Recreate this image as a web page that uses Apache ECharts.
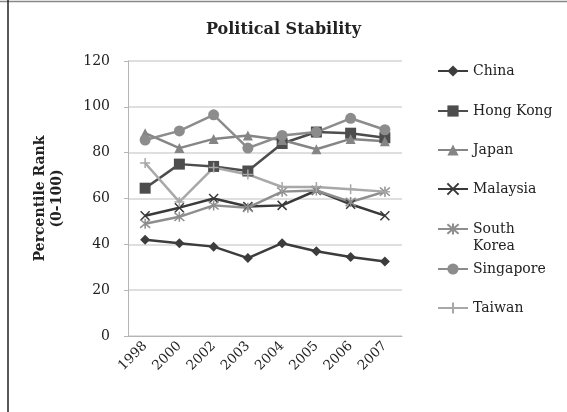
<!DOCTYPE html>
<html>
<head>
<meta charset="utf-8">
<script src="https://cdn.jsdelivr.net/npm/echarts@6/dist/echarts.min.js"></script>
<style>
html,body{margin:0;padding:0;background:#fff;}
#c{width:567px;height:412px;}
</style>
</head>
<body>
<div id="c"></div>
<script>
var years = ['1998','2000','2002','2003','2004','2005','2006','2007'];
var yTicks = [0,20,40,60,80,100,120];
var china     = [42, 40.5, 39, 34, 40.5, 37, 34.5, 32.5];
var hongKong  = [64.5, 75, 74, 72, 84, 89, 88.5, 86.5];
var japan     = [88.5, 82, 86, 87.5, 85.5, 81.5, 86, 85];
var malaysia  = [52.5, 56, 60, 56.5, 57, 63.5, 57.5, 52.5];
var southKorea= [49, 52, 57, 56, 63, 63.5, 58.5, 63];
var singapore = [85.5, 89.5, 96.5, 82, 87.5, 89, 95, 90];
var taiwan    = [75.5, 58.5, 73.5, 70.5, 65, 65, 64, 63];

var FONT = 'DejaVu Serif';
var xPath = 'path://M0,0L10,10M10,0L0,10';
var starPath = 'path://M0,0L10,10M10,0L0,10M5,-1L5,11';
var plusPath = 'path://M5,0L5,10M0,5L10,5';

function mk(name, data, color, symbol, size, stroke) {
  return {
    name: name, type: 'line', data: data,
    symbol: symbol, symbolSize: size,
    lineStyle: {color: color, width: 2.5},
    itemStyle: stroke ? {color: 'rgba(0,0,0,0)', borderColor: color, borderWidth: 1.5} : {color: color},
    emphasis: {disabled: true},
    animation: false
  };
}

var series = [
  mk('China', china, '#3c3c3c', 'diamond', 10, false),
  mk('Hong Kong', hongKong, '#4d4d4d', 'rect', 11, false),
  mk('Japan', japan, '#858585', 'triangle', 10, false),
  mk('Malaysia', malaysia, '#3a3a3a', xPath, 9, true),
  mk('South Korea', southKorea, '#8e8e8e', starPath, 10, true),
  mk('Singapore', singapore, '#8c8c8c', 'circle', 11, false),
  mk('Taiwan', taiwan, '#a8a8a8', plusPath, 10, true)
];

var legendTops = [59, 99, 138, 177, 217, 257, 296];
var legends = series.map(function (s, i) {
  return {
    data: [s.name],
    left: 432, top: legendTops[i],
    orient: 'vertical',
    itemWidth: 30, itemHeight: 14, itemGap: 5,
    selectedMode: false,
    formatter: s.name === 'South Korea' ? 'South' : '{name}',
    textStyle: {fontFamily: FONT, fontSize: 14, color: '#222'}
  };
});

var chart = echarts.init(document.getElementById('c'), null, {renderer: 'canvas'});
chart.setOption({
  backgroundColor: '#fff',
  animation: false,
  title: {
    text: 'Political Stability', left: 'center', top: 22,
    textStyle: {fontFamily: FONT, fontSize: 16, fontWeight: 'bold', color: '#222'},
    padding: 0, itemGap: 0
  },
  legend: legends,
  grid: {left: 128, right: 165, top: 61, bottom: 76, containLabel: false},
  xAxis: {
    type: 'category', data: years, boundaryGap: true,
    axisLine: {lineStyle: {color: '#b5b5b5', width: 1}},
    axisTick: {show: false},
    axisLabel: {rotate: 45, fontFamily: FONT, fontSize: 13.5, color: '#222', margin: 8, interval: 0}
  },
  yAxis: {
    type: 'value', min: yTicks[0], max: yTicks[yTicks.length - 1], interval: 20,
    name: 'Percentile Rank\n(0-100)', nameLocation: 'middle', nameGap: 62, nameRotate: 90,
    nameTextStyle: {fontFamily: FONT, fontSize: 14, fontWeight: 'bold', color: '#222', lineHeight: 17},
    axisLine: {show: true, lineStyle: {color: '#b5b5b5', width: 1}},
    axisTick: {show: true, length: 4, lineStyle: {color: '#b5b5b5'}},
    axisLabel: {fontFamily: FONT, fontSize: 14, color: '#222', margin: 18},
    splitLine: {lineStyle: {color: '#d4d4d4', width: 1.5}}
  },
  graphic: [
    {type: 'line', shape: {x1: 0, y1: 1.5, x2: 567, y2: 1.5}, style: {stroke: '#888', lineWidth: 1.5}, silent: true},
    {type: 'line', shape: {x1: 8, y1: 0, x2: 8, y2: 412}, style: {stroke: '#222', lineWidth: 1.5}, silent: true},
    {type: 'text', left: 473, top: 239, silent: true,
     style: {text: 'Korea', font: '14px "DejaVu Serif"', fill: '#222'}}
  ],
  series: series
});
</script>
</body>
</html>
